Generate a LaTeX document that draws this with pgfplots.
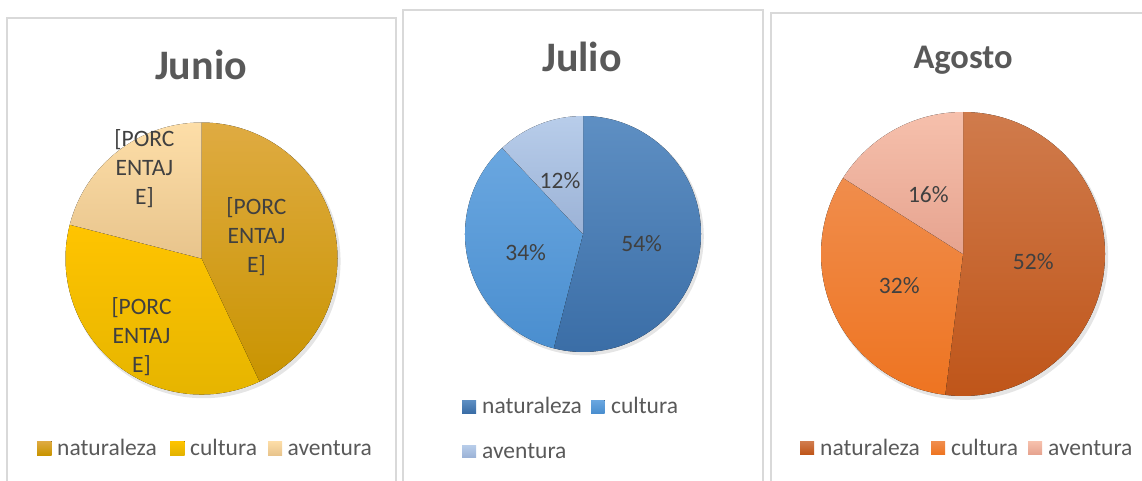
\documentclass[border=0pt]{standalone}
\usepackage{pgfplots}
\usepackage{pgfplotstable}
\pgfplotsset{compat=1.18}
\usepackage{fontspec}
\setmainfont{Carlito}

\definecolor{frame}{HTML}{D9D9D9}
\definecolor{titlec}{HTML}{595959}
\definecolor{legc}{HTML}{595959}
\definecolor{labc}{HTML}{404040}
% Junio
\definecolor{JunNatT}{HTML}{DFAB42}\definecolor{JunNatB}{HTML}{C99400}
\definecolor{JunCulT}{HTML}{FFC400}\definecolor{JunCulB}{HTML}{E3B300}
\definecolor{JunAvT}{HTML}{FDDEA8}\definecolor{JunAvB}{HTML}{E8C48C}
% Julio
\definecolor{JulNatT}{HTML}{5E8FC3}\definecolor{JulNatB}{HTML}{3A6DA6}
\definecolor{JulCulT}{HTML}{6AA7E0}\definecolor{JulCulB}{HTML}{4A8ECF}
\definecolor{JulAvT}{HTML}{B8CDEA}\definecolor{JulAvB}{HTML}{9BB2D6}
% Agosto
\definecolor{AgoNatT}{HTML}{D07B4C}\definecolor{AgoNatB}{HTML}{BF5519}
\definecolor{AgoCulT}{HTML}{F08D4C}\definecolor{AgoCulB}{HTML}{EE7421}
\definecolor{AgoAvT}{HTML}{F6C0AC}\definecolor{AgoAvB}{HTML}{E6A38F}

\pgfplotstableread{
cat val
naturaleza 43
cultura 36
aventura 21
}\junio
\pgfplotstableread{
cat val
naturaleza 54
cultura 34
aventura 12
}\julio
\pgfplotstableread{
cat val
naturaleza 52
cultura 32
aventura 16
}\agosto

% one slice: #1 start %, #2 end %, #3 radius (pt), #4 top colour, #5 bottom colour
\newcommand\pieslice[5]{%
  \pgfmathsetmacro\sa{90-3.6*#1}%
  \pgfmathsetmacro\ea{90-3.6*#2}%
  \pgfmathsetmacro\cx{cos(\sa)}%
  \pgfmathsetmacro\cy{sin(\sa)}%
  \edef\tmp{\noexpand\fill[top color=#4, bottom color=#5] (axis cs:0,0) -- (axis cs:\cx,\cy) arc[start angle=\sa, end angle=\ea, radius=#3pt] -- cycle;}%
  \tmp
}
\newcommand\drawpie[3]{%
  \pgfplotstablegetelem{0}{val}\of#1\edef\va{\pgfplotsretval}%
  \pgfplotstablegetelem{1}{val}\of#1\edef\vb{\pgfplotsretval}%
  \pgfplotstablegetelem{2}{val}\of#1\edef\vc{\pgfplotsretval}%
  \pgfmathsetmacro\tot{\va+\vb+\vc}%
  \pgfmathsetmacro\ca{100*\va/\tot}%
  \pgfmathsetmacro\cb{100*(\va+\vb)/\tot}%
  \pieslice{0}{\ca}{#2}{#3NatT}{#3NatB}%
  \pieslice{\ca}{\cb}{#2}{#3CulT}{#3CulB}%
  \pieslice{\cb}{100}{#2}{#3AvT}{#3AvB}%
}

\pgfplotsset{pieaxis/.style={hide axis, clip=false, xmin=-1, xmax=1, ymin=-1, ymax=1, anchor=center}}
\tikzset{lab/.style={text=labc, font=\fontsize{23.5}{29}\selectfont, inner sep=0pt},
         leg/.style={text=legc, font=\fontsize{23.5}{28}\selectfont, inner sep=0pt, anchor=base west}}

\begin{document}
\begin{tikzpicture}
\path[use as bounding box] (0,0) rectangle (1142pt,480pt);
% frames
\draw[frame, line width=1.4pt] (7pt,-10pt) rectangle (396pt,462pt);
\draw[frame, line width=1.4pt] (403pt,-10pt) rectangle (763pt,470pt);
\draw[frame, line width=1.4pt] (771pt,-10pt) rectangle (1160pt,467pt);

% titles
\node[anchor=base, text=titlec, font=\fontsize{42}{48}\selectfont\bfseries, inner sep=0pt] at (201pt,400pt) {Junio};
\node[anchor=base, text=titlec, font=\fontsize{42}{48}\selectfont\bfseries, inner sep=0pt] at (582pt,408.3pt) {Julio};
\node[anchor=base, text=titlec, font=\fontsize{34.5}{40}\selectfont\bfseries, inner sep=0pt] at (963pt,411.7pt) {Agosto};

% Junio
\begin{axis}[pieaxis, x=136pt, y=136pt, at={(201.5pt,221.5pt)}]
\fill[black, opacity=0.10] (axis cs:0.015,-0.02) circle[radius=137pt];
\drawpie{\junio}{136}{Jun}
\node[lab, align=center] at (axis cs:0.404,0.162) {[PORC\\ENTAJ\\E]};
\node[lab, align=center] at (axis cs:-0.441,-0.575) {[PORC\\ENTAJ\\E]};
\node[lab, align=center] at (axis cs:-0.420,0.660) {[PORC\\ENTAJ\\E]};
\end{axis}

% Julio
\begin{axis}[pieaxis, x=118pt, y=118pt, at={(583pt,246pt)}]
\fill[black, opacity=0.10] (axis cs:0.015,-0.02) circle[radius=119pt];
\drawpie{\julio}{118}{Jul}
\node[lab] at (axis cs:0.497,-0.079) {54\%};
\node[lab] at (axis cs:-0.486,-0.158) {34\%};
\node[lab] at (axis cs:-0.195,0.449) {12\%};
\end{axis}

% Agosto
\begin{axis}[pieaxis, x=142pt, y=142pt, at={(963pt,226pt)}]
\fill[black, opacity=0.10] (axis cs:0.015,-0.02) circle[radius=143pt];
\drawpie{\agosto}{142}{Ago}
\node[lab] at (axis cs:0.495,-0.054) {52\%};
\node[lab] at (axis cs:-0.449,-0.225) {32\%};
\node[lab] at (axis cs:-0.244,0.415) {16\%};
\end{axis}

% legends
\fill[top color=JunNatT, bottom color=JunNatB] (37pt,25pt) rectangle (51.5pt,39pt);
\node[leg] at (57pt,25pt) {naturaleza};
\fill[top color=JunCulT, bottom color=JunCulB] (170pt,25pt) rectangle (184.5pt,39pt);
\node[leg] at (190pt,25pt) {cultura};
\fill[top color=JunAvT, bottom color=JunAvB] (268pt,25pt) rectangle (282pt,39pt);
\node[leg] at (287.5pt,25pt) {aventura};

\fill[top color=JulNatT, bottom color=JulNatB] (462pt,67pt) rectangle (476pt,80pt);
\node[leg] at (482pt,66.7pt) {naturaleza};
\fill[top color=JulCulT, bottom color=JulCulB] (591pt,67pt) rectangle (604.5pt,80pt);
\node[leg] at (611pt,66.7pt) {cultura};
\fill[top color=JulAvT, bottom color=JulAvB] (462pt,22.5pt) rectangle (476pt,35pt);
\node[leg] at (482pt,21.7pt) {aventura};

\fill[top color=AgoNatT, bottom color=AgoNatB] (800pt,25.7pt) rectangle (814pt,38.3pt);
\node[leg] at (820pt,25pt) {naturaleza};
\fill[top color=AgoCulT, bottom color=AgoCulB] (931pt,25.7pt) rectangle (945pt,38.3pt);
\node[leg] at (951pt,25pt) {cultura};
\fill[top color=AgoAvT, bottom color=AgoAvB] (1028pt,25.7pt) rectangle (1042pt,38.3pt);
\node[leg] at (1048pt,25pt) {aventura};
\end{tikzpicture}
\end{document}
